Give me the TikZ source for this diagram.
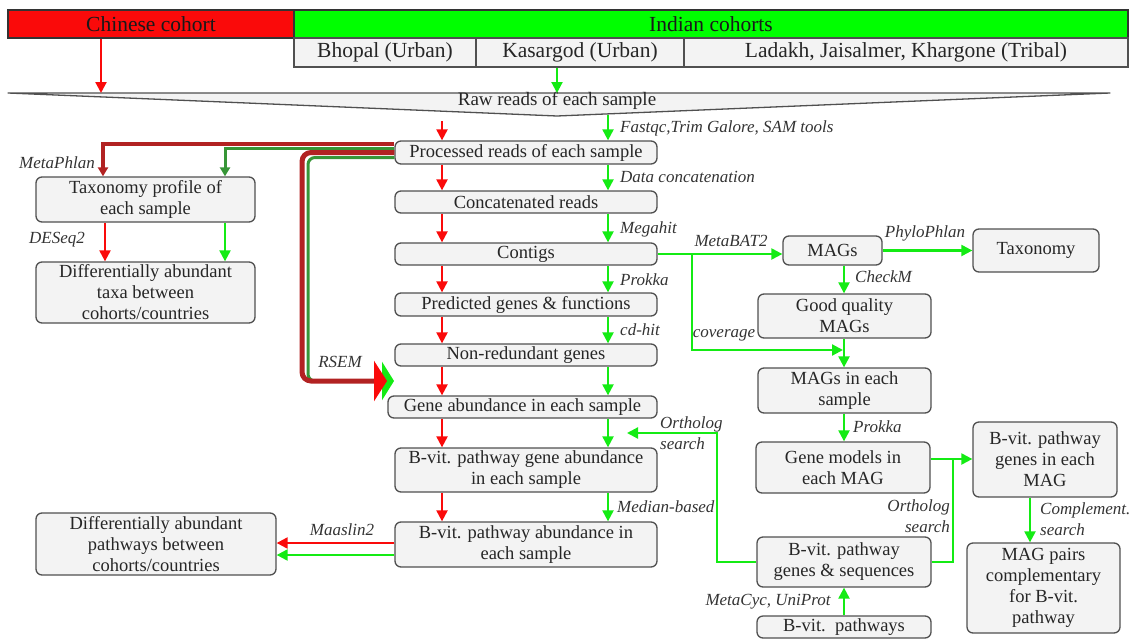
\documentclass[tikz,border=0pt]{standalone}
\usepackage{fontspec}
\setmainfont{Liberation Serif}
\newfontfamily\tnr{Liberation Serif}
\usetikzlibrary{arrows.meta}
\definecolor{bred}{RGB}{250,10,10}
\definecolor{bgreen}{RGB}{20,235,20}
\definecolor{hgreen}{RGB}{0,255,0}
\definecolor{dred}{RGB}{178,34,34}
\definecolor{dgreen}{RGB}{55,150,55}
\definecolor{boxfill}{RGB}{243,243,243}
\definecolor{boxline}{RGB}{80,80,80}
\begin{document}
\begin{tikzpicture}[x=1pt,y=-1pt,
 box/.style={draw=boxline, fill=boxfill, line width=1.3pt, rounded corners=6pt, align=center, inner sep=0pt, font=\tnr\fontsize{18.5}{21}\selectfont, text=black!85},
 hdr/.style={draw=black!80, line width=1.3pt, inner sep=0pt, font=\tnr\fontsize{21.5}{23}\selectfont, text=black!90},
 sub/.style={draw=boxline, fill=boxfill, line width=1.2pt, inner sep=0pt, font=\tnr\fontsize{21.5}{23}\selectfont, text=black!85},
 lbl/.style={font=\tnr\fontsize{17}{20}\selectfont\itshape, text=black!80, inner sep=0pt, align=left},
 ra/.style={draw=bred, line width=2.2pt, -{Triangle[length=11pt,width=11pt]}},
 ga/.style={draw=bgreen, line width=2.2pt, -{Triangle[length=11pt,width=11pt]}},
 gl/.style={draw=bgreen, line width=2.2pt},
]
\useasboundingbox (0,0) rectangle (1131,642);

% header
\node[hdr, fill=bred, minimum width=286, minimum height=28] (chn) at (151,24) {Chinese cohort};
\node[hdr, fill=hgreen, minimum width=834, minimum height=28] (ind) at (711,24) {Indian cohorts};
\node[sub, minimum width=182, minimum height=29] (bho) at (385,52.5) {Bhopal (Urban)};
\node[sub, minimum width=208, minimum height=29] (kas) at (580,52.5) {Kasargod (Urban)};
\node[sub, minimum width=444, minimum height=29] (lad) at (906,52.5) {Ladakh, Jaisalmer, Khargone (Tribal)};

% raw reads wedge
\draw[fill=boxfill, draw=boxline, line width=1.3pt, line join=round] (8,93) -- (1110,93) -- (557,116) -- cycle;
\node[font=\tnr\fontsize{19}{21}\selectfont, text=black!85, inner sep=0pt] (raw) at (557,101) {Raw reads of each sample};
\coordinate (rawtop) at (557,93);
\coordinate (rawR) at (442,121);
\coordinate (rawG) at (608,115);

% main column
\node[box, minimum width=262, minimum height=23] (proc) at (526,152.5) {Processed reads of each sample};
\node[box, minimum width=262, minimum height=22] (conc) at (526,202) {Concatenated reads};
\node[box, minimum width=262, minimum height=22] (cont) at (526,254) {Contigs};
\node[box, minimum width=262, minimum height=23] (pred) at (526,304.5) {Predicted genes \& functions};
\node[box, minimum width=262, minimum height=22] (nonr) at (526,355) {Non-redundant genes};
\node[box, minimum width=269, minimum height=22] (gab) at (522.5,407) {Gene abundance in each sample};
\node[box, minimum width=262, minimum height=44] (bgab) at (526,470) {B-vit. pathway gene abundance\\in each sample};
\node[box, minimum width=262, minimum height=45] (bpab) at (526,544.5) {B-vit. pathway abundance in\\each sample};

% left column
\node[box, minimum width=219, minimum height=45] (tax) at (145.5,199.5) {Taxonomy profile of\\each sample};
\node[box, minimum width=219, minimum height=61] (dat) at (145.5,292.5) {Differentially abundant\\taxa between\\cohorts/countries};
\node[box, minimum width=240, minimum height=62] (dap) at (156,544) {Differentially abundant\\pathways between\\cohorts/countries};

% right column
\node[box, minimum width=99, minimum height=29] (mags) at (832.5,250.5) {MAGs};
\node[box, minimum width=126, minimum height=43] (taxo) at (1036,250.5) {Taxonomy};
\node[box, minimum width=173, minimum height=44] (gqm) at (844.5,316) {Good quality\\MAGs};
\node[box, minimum width=173, minimum height=45] (mies) at (844.5,390.5) {MAGs in each\\sample};
\node[box, minimum width=174, minimum height=51] (gm) at (843,467.5) {Gene models in\\each MAG};
\node[box, minimum width=144, minimum height=75] (bpg) at (1045,459.5) {B-vit. pathway\\genes in each\\MAG};
\node[box, minimum width=153, minimum height=90] (mp) at (1043.5,588) {MAG pairs\\complementary\\for B-vit.\\pathway};
\node[box, minimum width=174, minimum height=50] (bgs) at (844,562) {B-vit. pathway\\genes \& sequences};
\node[box, minimum width=174, minimum height=22] (bvp) at (844,627) {B-vit.\ \ pathways};

% column coordinates
\coordinate (rc) at (442,0);
\coordinate (gc) at (608,0);
\coordinate (mc) at (844,0);
\coordinate (pc) at (1030,0);

% header arrows
\draw[ra] ([xshift=-50pt]chn.south) -- ([xshift=-50pt]chn.south |- rawtop);
\draw[ga] (kas.south -| rawtop) -- (rawtop);

% main column arrows
\draw[ra] (rawR) -- (proc.north -| rc);
\draw[ga] (rawG) -- (proc.north -| gc);
\foreach \a/\b in {proc/conc, conc/cont, cont/pred, pred/nonr, nonr/gab, gab/bgab, bgab/bpab}{
  \draw[ra] (\a.south -| rc) -- (\b.north -| rc);
  \draw[ga] (\a.south -| gc) -- (\b.north -| gc);
}

% left arrows
\coordinate (lr) at (105,0);
\coordinate (lg) at (225,0);
\draw[ra] (tax.south -| lr) -- (dat.north -| lr);
\draw[ga] (tax.south -| lg) -- (dat.north -| lg);

% MetaPhlan connectors
\coordinate (mpR) at (103,144);
\coordinate (mpG) at (225,148.5);
\draw[draw=dgreen, line width=3pt, -{Triangle[length=9pt,width=10pt]}] (proc.west |- mpG) -| (tax.north -| mpG);
\draw[draw=dred, line width=3.5pt, -{Triangle[length=9pt,width=10pt]}] (proc.west |- mpR) -| (tax.north -| mpR);

% RSEM connectors
\coordinate (rsYr) at (0,152.5);
\coordinate (rsYg) at (0,157.5);
\coordinate (rsR) at (302,381);
\coordinate (rsG) at (308,381);
\coordinate (rsTipG) at (394,381);
\coordinate (rsTipR) at (387,381);
\draw[draw=dgreen, line width=3pt, rounded corners=7pt, -{Triangle[length=12pt,width=38pt,color=bgreen]}] (proc.west |- rsYg) -| (rsG) -- (rsTipG);
\draw[draw=dred, line width=5pt, rounded corners=9pt, -{Triangle[length=13pt,width=40pt,color=bred]}] (proc.west |- rsYr) -| (rsR) -- (rsTipR);

% Ortholog into main column
\coordinate (ortA) at (717,433);
\coordinate (ortT) at (627,433);
\draw[ga] (bgs.west) -| (ortA) -- (ortT);

% pathway -> differential
\coordinate (myr) at (0,543);
\coordinate (myg) at (0,555);
\draw[ra] (bpab.west |- myr) -- (dap.east |- myr);
\draw[ga] (bpab.west |- myg) -- (dap.east |- myg);

% right side
\coordinate (cvB) at (692,254);
\coordinate (cvT) at (843,350);
\draw[ga] (cont.east) -- (mags.west |- cont.east);
\draw[ga] (cvB) |- (cvT);
\draw[ga] (mags.east) -- (taxo.west);
\draw[ga] (mags.south -| mc) -- (gqm.north -| mc);
\draw[ga] (gqm.south -| mc) -- (mies.north -| mc);
\draw[ga] (mies.south -| mc) -- (gm.north -| mc);
\draw[ga] (bvp.north -| mc) -- (bgs.south -| mc);
\coordinate (jn) at (953,459);
\draw[gl] (bgs.east) -| (jn);
\draw[ga] (gm.east |- jn) -- (bpg.west |- jn);
\draw[ga] (bpg.south -| pc) -- (mp.north -| pc);

% labels
\node[lbl, anchor=west] (l1) at (620,128) {Fastqc,Trim Galore, SAM tools};
\node[lbl] (l2) at (57,163) {MetaPhlan};
\node[lbl] (l3) at (57,240) {DESeq2};
\node[lbl, anchor=west] (l4) at (620,177) {Data concatenation};
\node[lbl, anchor=west] (l5) at (620,229) {Megahit};
\node[lbl, anchor=west] (l6) at (620,280) {Prokka};
\node[lbl, anchor=west] (l7) at (620,330) {cd-hit};
\node[lbl] (l8) at (340,362) {RSEM};
\node[lbl, anchor=west] (l9) at (660,424) {Ortholog};
\node[lbl, anchor=west] (l10) at (660,444) {search};
\node[lbl, anchor=west] (l11) at (617,507) {Median-based};
\node[lbl] (l12) at (342,530) {Maaslin2};
\node[lbl] (l13) at (731,241) {MetaBAT2};
\node[lbl] (l14) at (925,233) {PhyloPhlan};
\node[lbl, anchor=west] (l15) at (855,277) {CheckM};
\node[lbl] (l16) at (724,335) {coverage};
\node[lbl, anchor=west] (l17) at (853,427) {Prokka};
\node[lbl, anchor=east] (l18) at (950,507) {Ortholog};
\node[lbl, anchor=east] (l19) at (950,527) {search};
\node[lbl, anchor=west] (l20) at (1040,510) {Complement.};
\node[lbl, anchor=west] (l21) at (1040,530) {search};
\node[lbl] (l22) at (768,602) {MetaCyc, UniProt};
\end{tikzpicture}
\end{document}
